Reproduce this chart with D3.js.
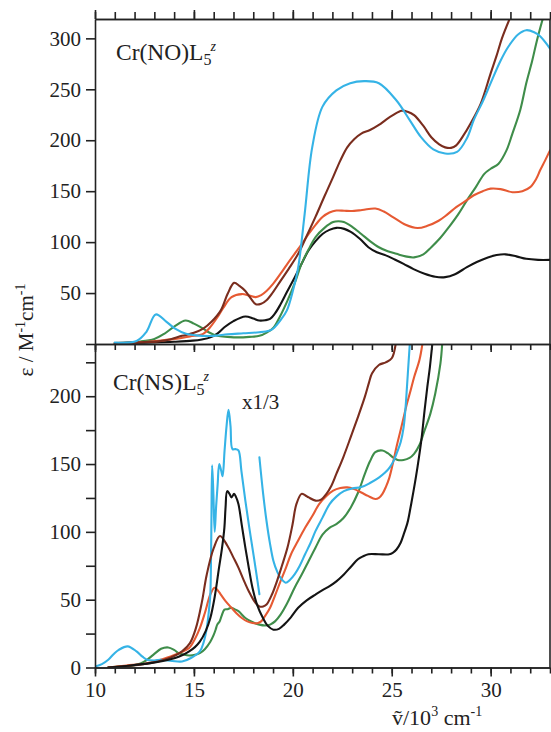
<!DOCTYPE html>
<html>
<head>
<meta charset="utf-8">
<script src="https://cdn.jsdelivr.net/npm/d3@7"></script>
<style>
  html, body { margin: 0; padding: 0; background: #fff; }
  svg { display: block; }
  text { font-family: "Liberation Serif", "Times New Roman", serif; fill: #222; }
</style>
</head>
<body>
<svg id="chart" width="551" height="732"></svg>
<script>
// Absorption spectra, wavenumber in 10^3 cm^-1 vs epsilon in M^-1 cm^-1

// ---- Upper panel: Cr(NO)L5^z ----
const noBlue = [[11,1.5],[12.1,3],[12.6,12],[13.07,29],[13.6,22],[14.05,15],[14.6,10],[15.1,8.5],[16,8],[16.7,9.5],[17.5,10.5],[18.3,11.5],[18.8,13],[19.0,15],[19.4,24],[19.7,33],[20.0,52],[20.27,75],[20.6,128],[20.98,193],[21.5,233],[22.2,249],[22.9,256],[23.6,258],[24.35,256],[25.24,239],[25.9,220],[26.48,203],[27.1,191],[27.7,187],[28.3,188.5],[28.8,202],[29.15,220],[29.6,238],[30.0,256],[30.5,278],[30.9,292],[31.4,304],[31.8,308],[32.2,306],[32.5,302],[33.0,290]];
const noBrown = [[11,1],[12.5,1.8],[13.2,2.6],[13.8,4.5],[14.4,8],[15.0,11],[15.47,15],[15.9,22],[16.36,33],[16.7,49],[17.03,60],[17.3,57],[17.6,52],[17.9,44],[18.13,39],[18.4,39.5],[18.67,43],[19.0,51],[19.38,62],[19.8,74],[20.27,88.5],[20.7,106],[21.15,125],[21.6,145],[22.04,164],[22.4,180],[22.75,193],[23.1,201],[23.46,206.5],[23.9,210],[24.35,215],[24.7,220],[25.06,224.6],[25.5,229],[25.8,228],[26.13,224.6],[26.6,214],[27.0,203],[27.4,196],[27.7,193],[28.0,192.5],[28.26,195],[28.6,204],[28.97,216],[29.5,236],[30.0,265.6],[30.3,283],[30.57,300],[31.0,321]];
const noOrange = [[11,0.7],[12.5,2],[14.05,5],[14.8,7.5],[15.47,10],[15.8,16],[16.18,26],[16.5,36],[16.9,46],[17.42,49],[17.8,47.5],[18.13,46],[18.4,48],[18.67,52],[19.0,59],[19.38,69],[19.7,78],[20.09,88.5],[20.45,98],[20.8,108],[21.15,117],[21.5,124.6],[21.85,129],[22.2,131],[22.6,130.8],[22.93,130.5],[23.5,131.5],[24.17,133],[24.6,130],[25.06,124.6],[25.7,117],[26.3,113.8],[26.8,116],[27.37,121],[27.8,127],[28.26,134.4],[28.7,140],[29.15,146],[29.6,150],[30.0,152.5],[30.5,152],[31.1,149],[31.6,150],[32.0,154],[32.3,162],[32.5,170.5],[32.75,180],[33.0,190]];
const noGreen = [[11,1],[12.3,2.5],[13.0,5],[13.5,10],[14.0,17],[14.58,23],[15.0,20],[15.47,15],[15.8,11],[16.18,8],[16.7,7],[17.25,6.5],[17.8,7],[18.31,8],[18.7,11.5],[19.02,16],[19.35,27],[19.73,42.6],[20.1,60],[20.44,78.7],[20.8,93],[21.15,105],[21.6,114],[22.04,119.7],[22.3,120.5],[22.58,119.7],[23.0,115],[23.46,108],[23.9,101],[24.35,95],[24.8,91],[25.24,88.5],[25.7,86],[26.13,85],[26.6,88],[27.0,95],[27.45,104],[27.9,115],[28.35,127],[28.8,141],[29.25,154],[29.68,167],[30.0,172],[30.4,177],[30.8,190],[31.1,206.5],[31.5,230],[31.8,256],[32.1,278],[32.34,298],[32.66,321]];
const noBlack = [[11,0.7],[13.0,1.5],[14.0,2.2],[14.94,3.3],[15.4,4.5],[15.83,6.5],[16.2,10.5],[16.54,16.4],[17.0,22.5],[17.6,27],[18.0,25],[18.3,23],[18.6,23.3],[18.85,24.6],[19.1,30],[19.38,39],[19.7,51],[20.1,65.6],[20.45,79],[20.8,92],[21.15,101],[21.5,108],[21.85,112],[22.2,114],[22.6,113],[22.93,110],[23.4,103],[23.82,95],[24.25,90],[24.7,87],[25.15,83],[25.6,78.7],[26.1,73.5],[26.66,69],[27.2,66],[27.7,65.6],[28.2,68.5],[28.8,75.4],[29.3,80.5],[29.86,85],[30.3,87.3],[30.75,88],[31.3,86],[31.8,83.6],[32.4,82.6],[33.0,82.6]];

// ---- Lower panel: Cr(NS)L5^z (blue drawn in two pieces; first piece contains the x1/3 band) ----
const nsBlueA = [[10,0.7],[10.35,2.5],[10.67,5.7],[10.95,10],[11.2,13],[11.65,15.6],[12.1,11.9],[12.4,8],[12.63,5.7],[13.0,5.2],[13.34,5.7],[13.9,4.8],[14.4,4.4],[14.85,7],[15.3,11.9],[15.5,19],[15.65,29],[15.78,45],[15.83,54],[15.88,100],[15.92,149],[15.98,130],[16.05,100],[16.12,118],[16.2,135],[16.28,150],[16.38,145],[16.45,141],[16.55,160],[16.65,178],[16.75,190],[16.85,178],[16.95,161],[17.1,161],[17.25,160],[17.4,145],[17.6,123],[17.78,105],[17.96,88],[18.15,70],[18.31,54]];
const nsBlueB = [[18.31,155],[18.5,128],[18.67,108],[18.85,91],[19.02,78.5],[19.2,71],[19.38,66],[19.64,62.5],[19.85,64.5],[20.09,68.6],[20.35,75],[20.62,83.5],[20.9,92],[21.15,100.7],[21.5,110.5],[21.86,120.5],[22.2,126],[22.58,130],[23.0,132],[23.46,133],[23.9,136],[24.35,140],[24.65,143.5],[24.9,147.6],[25.1,152.5],[25.24,157.5],[25.45,166],[25.6,177],[25.7,192],[25.77,207],[25.86,227],[25.92,240]];
const nsBrown = [[10.67,0],[11.5,1],[12.27,2],[12.9,3.5],[13.5,5.7],[14.0,8.5],[14.4,11.9],[14.8,18],[15.1,29],[15.4,48],[15.65,68.6],[16.0,88],[16.32,97],[16.7,89.6],[17.0,81],[17.25,73.6],[17.5,65],[17.78,56],[18.05,49],[18.31,45],[18.5,45],[18.67,46.4],[18.95,54],[19.2,63.7],[19.45,75],[19.73,88.4],[19.98,105],[20.18,120.5],[20.44,128],[20.62,127],[20.8,125.4],[21.15,123],[21.45,124],[21.7,128],[21.95,134],[22.2,142.7],[22.55,155],[22.93,170],[23.3,185],[23.64,199.5],[23.85,210],[24.0,216.8],[24.35,223],[24.7,225],[25.0,228],[25.2,238.5]];
const nsOrange = [[10.67,0],[11.6,1.5],[12.63,3.2],[13.4,6],[14.05,9.4],[14.4,11.5],[14.76,14.3],[15.05,21],[15.3,29],[15.55,40],[15.83,53.8],[16.04,58.8],[16.2,57],[16.36,53.8],[16.6,49],[16.9,44],[17.15,40],[17.42,36.5],[17.7,34],[17.96,32.8],[18.2,32.6],[18.4,34],[18.6,38],[18.85,44],[19.1,53],[19.38,63.7],[19.65,73.5],[19.91,83.5],[20.25,93],[20.62,103],[21.0,112],[21.33,120.5],[21.7,126.5],[22.04,130.4],[22.4,132.3],[22.75,132.8],[23.1,131.5],[23.46,129],[23.8,126.5],[24.17,124.2],[24.35,125],[24.53,128],[24.7,133],[24.88,140],[25.05,150],[25.24,162.5],[25.5,178],[25.77,194.6],[25.95,204],[26.13,214],[26.4,226.7],[26.55,238.5]];
const nsGreen = [[10.67,0],[11.3,0.8],[11.92,1.5],[12.3,3],[12.63,5.7],[13.0,10],[13.34,13.8],[13.7,14.8],[14.0,13],[14.23,10.6],[14.5,9.5],[14.76,8.9],[15.05,9.3],[15.3,10.6],[15.55,13.5],[15.83,19],[16.0,24],[16.1,28],[16.18,31.6],[16.3,34],[16.4,38],[16.54,42.7],[16.7,43],[16.9,44],[17.05,43],[17.25,41.5],[17.6,36.5],[17.95,33.5],[18.31,31.6],[18.6,31],[18.85,31.6],[19.1,34],[19.38,39],[19.7,47],[20.09,58.8],[20.45,68.5],[20.8,78.5],[21.15,88.5],[21.5,98],[21.85,103],[22.2,105.7],[22.55,110],[22.93,118],[23.3,129],[23.64,142.7],[23.9,152],[24.17,158.8],[24.53,160],[24.8,158],[25.06,155],[25.3,153],[25.6,153],[25.9,154.5],[26.13,157.5],[26.4,164],[26.66,174.8],[26.95,187],[27.2,202],[27.46,224],[27.55,238.5]];
const nsBlack = [[10.67,0],[11.8,1.5],[12.8,3.2],[13.5,5],[14.05,7],[14.4,9],[14.76,11.9],[15.05,15],[15.3,19],[15.6,27],[15.83,36.5],[16.05,52],[16.27,73.6],[16.42,88],[16.54,103],[16.6,118],[16.68,130],[16.8,128],[16.9,125.4],[17.03,128],[17.12,126],[17.25,120.5],[17.42,105],[17.6,88.4],[17.78,73],[17.96,58.8],[18.2,46],[18.49,36.5],[18.75,30.5],[19.02,27.9],[19.3,28.5],[19.56,31.6],[19.9,37],[20.27,44],[20.7,49.5],[21.15,53.8],[21.5,57],[21.86,60],[22.2,63.5],[22.58,68.6],[22.95,74.5],[23.29,79.8],[23.55,82],[23.82,83.5],[24.35,83.5],[24.88,83.5],[25.05,84.5],[25.24,87],[25.45,92],[25.6,98],[25.8,107],[25.95,118],[26.1,130],[26.3,147.6],[26.5,168],[26.66,189.6],[26.8,207],[26.93,221.7],[27.05,238.5]];

// ---- Axis ticks and labels ----
const xMajorTicks = [10, 15, 20, 25, 30];
const xMinorTicks = d3.range(10, 34, 1);
const topYTicks = [0, 50, 100, 150, 200, 250, 300];
const topYLabels = [50, 100, 150, 200, 250, 300];
const bottomYTicks = [0, 25, 50, 75, 100, 125, 150, 175, 200, 225];
const bottomYLabels = [0, 50, 100, 150, 200];

const colors = {
  blue: "#35b3e6",
  brown: "#7a2d1e",
  orange: "#e65a33",
  green: "#3f8d4a",
  black: "#141414"
};

const svg = d3.select("#chart");
const axisColor = "#222";

const x = d3.scaleLinear().domain([10, 33]).range([95, 550]);
const yTop = d3.scaleLinear().domain([0, 319]).range([344, 19]);
const yBot = d3.scaleLinear().domain([0, 238.5]).range([667.5, 344]);

// Clip each panel to its own frame
const defs = svg.append("defs");
defs.append("clipPath").attr("id", "clipTop").append("rect")
  .attr("x", 95).attr("y", 19).attr("width", 455).attr("height", 325);
defs.append("clipPath").attr("id", "clipBot").append("rect")
  .attr("x", 95).attr("y", 344).attr("width", 455).attr("height", 323.5);

function drawCurves(group, series, yScale) {
  const line = d3.line()
    .x(d => x(d[0]))
    .y(d => yScale(d[1]))
    .curve(d3.curveCatmullRom.alpha(0.5));
  series.forEach(s => {
    group.append("path")
      .attr("d", line(s.data))
      .attr("fill", "none")
      .attr("stroke", s.color)
      .attr("stroke-width", 2.1)
      .attr("stroke-linejoin", "round")
      .attr("stroke-linecap", "round");
  });
}

const gTop = svg.append("g").attr("clip-path", "url(#clipTop)");
drawCurves(gTop, [
  {data: noBlack, color: colors.black},
  {data: noGreen, color: colors.green},
  {data: noOrange, color: colors.orange},
  {data: noBrown, color: colors.brown},
  {data: noBlue, color: colors.blue}
], yTop);

const gBot = svg.append("g").attr("clip-path", "url(#clipBot)");
drawCurves(gBot, [
  {data: nsGreen, color: colors.green},
  {data: nsOrange, color: colors.orange},
  {data: nsBlueA, color: colors.blue},
  {data: nsBlueB, color: colors.blue},
  {data: nsBrown, color: colors.brown},
  {data: nsBlack, color: colors.black}
], yBot);

// ---- Frame and axes ----
function styleAxis(g) {
  g.selectAll("path.domain").attr("stroke", axisColor).attr("stroke-width", 1.6);
  g.selectAll(".tick line").attr("stroke", axisColor).attr("stroke-width", 1.6);
  g.selectAll(".tick text")
    .attr("font-family", "'Liberation Serif', 'Times New Roman', serif")
    .attr("font-size", 21)
    .attr("fill", "#222");
}

// top edge of upper panel: ticks pointing up
svg.append("g").attr("transform", "translate(0,19)")
  .call(d3.axisTop(x).tickValues(xMinorTicks).tickSize(7).tickFormat("").tickSizeOuter(0))
  .call(styleAxis);
svg.append("g").attr("transform", "translate(0,19)")
  .call(d3.axisTop(x).tickValues(xMajorTicks).tickSize(9).tickFormat("").tickSizeOuter(0))
  .call(styleAxis);

// shared edge between panels: ticks pointing down
svg.append("g").attr("transform", "translate(0,344)")
  .call(d3.axisBottom(x).tickValues(xMinorTicks).tickSize(6).tickFormat("").tickSizeOuter(0))
  .call(styleAxis);
svg.append("g").attr("transform", "translate(0,344)")
  .call(d3.axisBottom(x).tickValues(xMajorTicks).tickSize(8).tickFormat("").tickSizeOuter(0))
  .call(styleAxis);

// bottom axis with labels
svg.append("g").attr("transform", "translate(0,667.5)")
  .call(d3.axisBottom(x).tickValues(xMinorTicks).tickSize(6).tickFormat("").tickSizeOuter(0))
  .call(styleAxis);
svg.append("g").attr("transform", "translate(0,667.5)")
  .call(d3.axisBottom(x).tickValues(xMajorTicks).tickSize(9).tickPadding(6).tickFormat(d3.format("d")).tickSizeOuter(0))
  .call(styleAxis);

// left axes
svg.append("g").attr("transform", "translate(95,0)")
  .call(d3.axisLeft(yTop).tickValues(topYTicks).tickSize(9).tickPadding(5)
    .tickFormat(d => topYLabels.includes(d) ? d : "").tickSizeOuter(0))
  .call(styleAxis);
svg.append("g").attr("transform", "translate(95,0)")
  .call(d3.axisLeft(yBot).tickValues(bottomYTicks).tickSize(9).tickPadding(5)
    .tickFormat(d => bottomYLabels.includes(d) ? d : "").tickSizeOuter(0))
  .call(styleAxis);

// right edge
svg.append("line").attr("x1", 550).attr("x2", 550).attr("y1", 19).attr("y2", 667.5)
  .attr("stroke", axisColor).attr("stroke-width", 1.6);

// ---- Panel titles ----
function panelTitle(px, py, core) {
  const t = svg.append("text").attr("x", px).attr("y", py).attr("font-size", 23.5);
  t.append("tspan").text(core);
  t.append("tspan").attr("font-size", 16).attr("dy", 5).text("5");
  t.append("tspan").attr("font-size", 14).attr("font-style", "italic").attr("dy", -14).attr("dx", -1).text("z");
}
panelTitle(116, 60, "Cr(NO)L");
panelTitle(113, 390, "Cr(NS)L");

svg.append("text").attr("x", 242).attr("y", 409).attr("font-size", 21).text("x1/3");

// ---- Axis titles ----
const yTitle = svg.append("text")
  .attr("transform", "translate(33,330) rotate(-90)")
  .attr("text-anchor", "middle")
  .attr("font-size", 21);
yTitle.append("tspan").text("ε / M");
yTitle.append("tspan").attr("font-size", 14).attr("dy", -8).text("-1");
yTitle.append("tspan").attr("dy", 8).text("cm");
yTitle.append("tspan").attr("font-size", 14).attr("dy", -8).text("-1");

const xTitle = svg.append("text")
  .attr("x", 392).attr("y", 725)
  .attr("font-size", 22);
xTitle.append("tspan").text("\u1E7D/10");
xTitle.append("tspan").attr("font-size", 14).attr("dy", -9).text("3");
xTitle.append("tspan").attr("dy", 9).text(" cm");
xTitle.append("tspan").attr("font-size", 14).attr("dy", -9).text("-1");
</script>
</body>
</html>
